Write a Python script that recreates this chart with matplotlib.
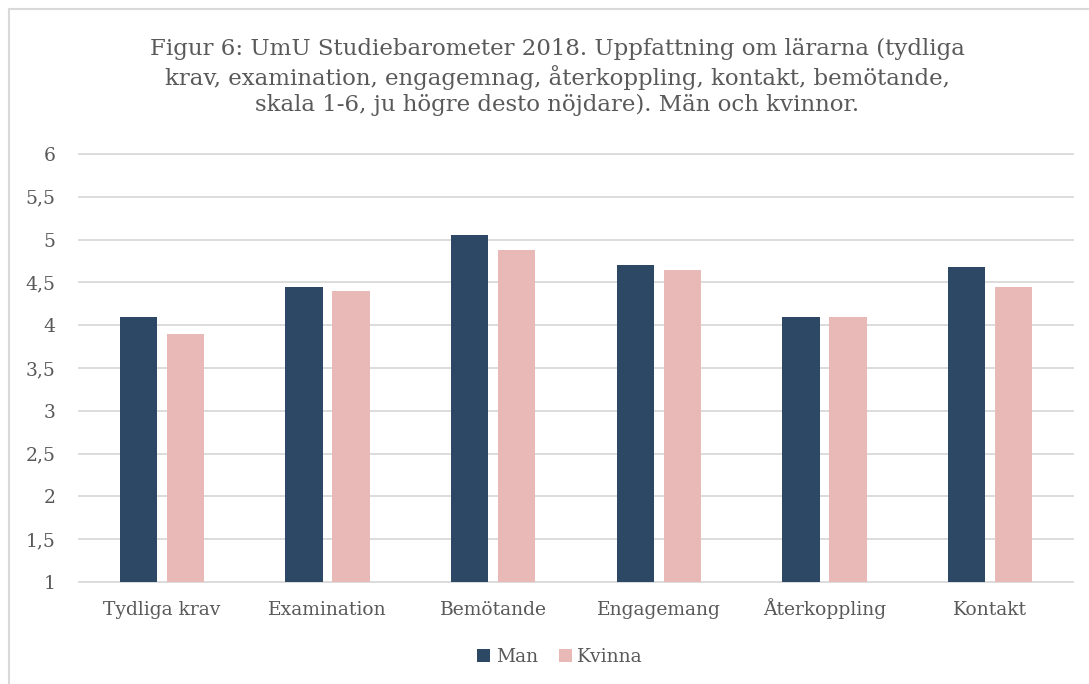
import numpy as np
import matplotlib.pyplot as plt
from matplotlib.patches import Rectangle
from matplotlib.ticker import FuncFormatter

# Data
categories = ["Tydliga krav", "Examination", "Bemötande", "Engagemang", "Återkoppling", "Kontakt"]
man = [4.09, 4.45, 5.05, 4.70, 4.10, 4.68]
kvinna = [3.90, 4.40, 4.88, 4.65, 4.10, 4.45]
yticks = [1, 1.5, 2, 2.5, 3, 3.5, 4, 4.5, 5, 5.5, 6]

title = ("Figur 6: UmU Studiebarometer 2018. Uppfattning om lärarna (tydliga\n"
         "krav, examination, engagemnag, återkoppling, kontakt, bemötande,\n"
         "skala 1-6, ju högre desto nöjdare). Män och kvinnor.")

navy = "#2C4865"
pink = "#E9B9B8"
text_col = "#595959"
grid_col = "#D9D9D9"

plt.rcParams['font.family'] = ['DejaVu Serif']

fig = plt.figure(figsize=(10.89, 6.84), dpi=100)

# light chart border like the Excel chart area
fig.patches.append(Rectangle((8.5 / 1089, -0.05), 1.2, 1 - 9 / 684 + 0.05,
                             transform=fig.transFigure, fill=False,
                             edgecolor=grid_col, linewidth=1.5))

ax = fig.add_axes([79 / 1089, 1 - 582 / 684, 994 / 1089, 428 / 684])

x = np.arange(len(categories))
w = 0.225
off = 0.1425
ax.bar(x - off, man, width=w, color=navy, label="Man", zorder=3)
ax.bar(x + off, kvinna, width=w, color=pink, label="Kvinna", zorder=3)

ax.set_xlim(-0.5, len(categories) - 0.5)
ax.set_ylim(1, 6)
ax.set_yticks(yticks)
ax.yaxis.set_major_formatter(FuncFormatter(lambda v, p: ("%g" % v).replace(".", ",")))
ax.set_xticks(x)
ax.set_xticklabels(categories)

ax.grid(axis='y', color=grid_col, linewidth=1.3, zorder=0)
for gl in ax.get_ygridlines():
    gl.set_clip_on(False)
for s in ax.spines.values():
    s.set_visible(False)
ax.tick_params(axis='both', length=0, colors=text_col, labelsize=13.5)
ax.tick_params(axis='y', pad=17)
ax.tick_params(axis='x', pad=24)
for lab in ax.get_xticklabels():
    lab.set_verticalalignment('baseline')

fig.text(557 / 1089, 1 - 77 / 684, title, ha='center', va='center', fontsize=16.5,
         color=text_col, linespacing=1.24)

leg = fig.legend(loc='center', bbox_to_anchor=(560 / 1089, 1 - 657 / 684), ncol=2,
                 frameon=False, fontsize=13.5, handlelength=0.7, handleheight=0.7,
                 handletextpad=0.3, columnspacing=1.1)
for t in leg.get_texts():
    t.set_color(text_col)

fig.savefig("out.png", dpi=100)
